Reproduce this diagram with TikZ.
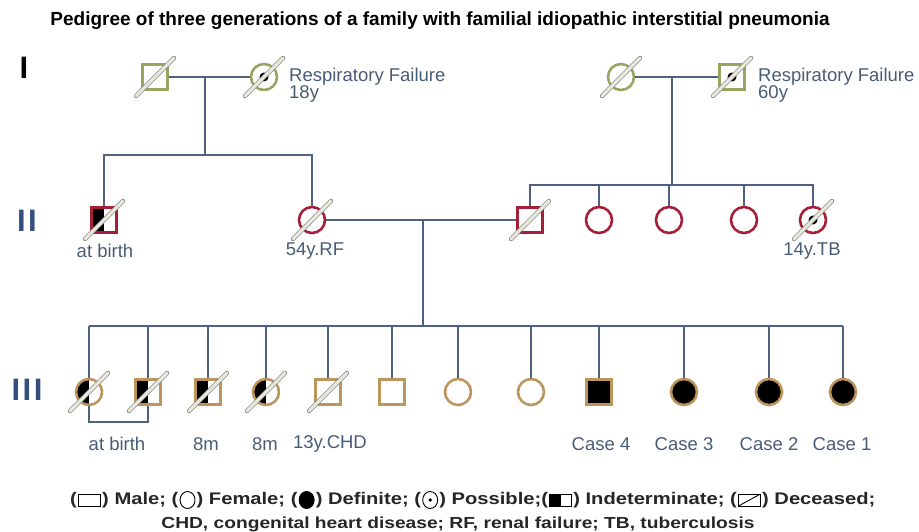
\documentclass[tikz,border=0pt]{standalone}
\usepackage{fontspec}
\setmainfont{Liberation Sans}
\newfontfamily\legendfont[FakeStretch=1.2]{Liberation Sans}
\usetikzlibrary{positioning, shapes.geometric}

\definecolor{pedline}{RGB}{78,98,128}
\definecolor{genone}{RGB}{150,165,95}
\definecolor{gentwo}{RGB}{165,30,55}
\definecolor{genthree}{RGB}{188,148,92}
\definecolor{labeltext}{RGB}{72,92,118}
\definecolor{genlabel}{RGB}{52,78,128}
\definecolor{slashedge}{RGB}{140,140,135}
\definecolor{slashfill}{RGB}{232,232,222}

\begin{document}
\begin{tikzpicture}[x=1pt, y=-1pt, node distance=1pt,
  male/.style={rectangle, draw, line width=2.6pt, fill=white, minimum size=25pt, inner sep=0pt},
  female/.style={circle, draw, line width=2.6pt, fill=white, minimum size=26pt, inner sep=0pt},
  halfleft/.style={path picture={\fill[black] (path picture bounding box.south west) rectangle (path picture bounding box.north);}},
  possible/.style={path picture={\fill[black] (path picture bounding box.center) circle[radius=4.5pt];}},
  definite/.style={fill=black},
  deadslash/.style={draw=slashedge, double=slashfill, double distance=3pt, line width=0.7pt, line cap=round},
  kin/.style={draw=pedline, line width=1.6pt},
  agelabel/.style={text=labeltext, font=\fontsize{18.5}{15}\selectfont, inner sep=0pt},
  genmark/.style={text=genlabel, font=\bfseries\fontsize{31}{31}\selectfont, inner sep=0pt},
  legtext/.style={font=\legendfont\bfseries\fontsize{16.8}{18}\selectfont, inner sep=0pt, text=black!85},
  legmale/.style={rectangle, draw, line width=0.9pt, minimum width=22pt, minimum height=12pt, inner sep=0pt},
  legfemale/.style={ellipse, draw, line width=0.9pt, minimum width=15pt, minimum height=17pt, inner sep=0pt},
]
\useasboundingbox (0,0) rectangle (919,532);

% title
\node[font=\bfseries\fontsize{19}{20}\selectfont, inner sep=0pt] (title) at (440,21) {Pedigree of three generations of a family with familial idiopathic interstitial pneumonia};

% generation marks
\node[genmark, text=black] (genI) at (24,68) {I};
\node[genmark] (genII) at (27,221) {I\kern2.5pt I};
\node[genmark] (genIII) at (27,390) {I\kern2.5pt I\kern2.5pt I};

% generation I
\node[male, draw=genone] (ind1a) at (155,77) {};
\node[female, draw=genone, possible] (ind1b) at (264,77) {};
\node[female, draw=genone] (ind1c) at (621,77) {};
\node[male, draw=genone, possible] (ind1d) at (732,77) {};
\coordinate (mate1) at (205,77);
\coordinate (sib1) at (205,155);
\coordinate (mate2) at (672,77);
\coordinate (sib2) at (672,185);
\node[agelabel, anchor=west] (cause1b) at (289,77) {Respiratory Failure};
\node[agelabel, anchor=north west] (age1b) at (cause1b.south west) {18y};
\node[agelabel, anchor=west] (cause1d) at (758,77) {Respiratory Failure};
\node[agelabel, anchor=north west] (age1d) at (cause1d.south west) {60y};

% generation II
\node[male, draw=gentwo, halfleft] (ind2a) at (104,220) {};
\node[female, draw=gentwo] (ind2b) at (312,220) {};
\node[male, draw=gentwo] (ind2c) at (530,220) {};
\node[female, draw=gentwo] (ind2d) at (599,220) {};
\node[female, draw=gentwo] (ind2e) at (669,220) {};
\node[female, draw=gentwo] (ind2f) at (744,220) {};
\node[female, draw=gentwo, possible] (ind2g) at (813,220) {};
\coordinate (mate3) at (423,220);
\coordinate (sib3) at (423,326);
\node[agelabel] (age2a) at (105,251) {at birth};
\node[agelabel] (age2b) at (315,251) {54y.RF};
\node[agelabel] (age2g) at (812,251) {14y.TB};

% generation III
\node[female, draw=genthree, halfleft] (ind3a) at (89,392) {};
\node[male, draw=genthree, halfleft] (ind3b) at (148,392) {};
\node[male, draw=genthree, halfleft] (ind3c) at (208,392) {};
\node[female, draw=genthree, halfleft] (ind3d) at (266,392) {};
\node[male, draw=genthree] (ind3e) at (328,392) {};
\node[male, draw=genthree] (ind3f) at (392,392) {};
\node[female, draw=genthree] (ind3g) at (458,392) {};
\node[female, draw=genthree] (ind3h) at (531,392) {};
\node[male, draw=genthree, definite] (ind3i) at (599,392) {};
\node[female, draw=genthree, definite] (ind3j) at (684,392) {};
\node[female, draw=genthree, definite] (ind3k) at (769,392) {};
\node[female, draw=genthree, definite] (ind3l) at (843,392) {};
\coordinate (twin) at (118,422);
\node[agelabel] (age3ab) at (117,444) {at birth};
\node[agelabel] (age3c) at (206,444) {8m};
\node[agelabel] (age3d) at (265,444) {8m};
\node[agelabel] (age3e) at (330,444) {13y.CHD};
\node[agelabel] (age3i) at (601,444) {Case 4};
\node[agelabel] (age3j) at (684,444) {Case 3};
\node[agelabel] (age3k) at (769,444) {Case 2};
\node[agelabel] (age3l) at (842,444) {Case 1};

% lines of descent
\draw[kin] (ind1a) -- (ind1b);
\draw[kin] (mate1) -- (sib1);
\draw[kin] (ind2a) -- (ind2a |- sib1) -- (ind2b |- sib1) -- (ind2b);
\draw[kin] (ind1c) -- (ind1d);
\draw[kin] (mate2) -- (sib2);
\draw[kin] (ind2c) -- (ind2c |- sib2) -- (ind2g |- sib2) -- (ind2g);
\draw[kin] (ind2d |- sib2) -- (ind2d);
\draw[kin] (ind2e |- sib2) -- (ind2e);
\draw[kin] (ind2f |- sib2) -- (ind2f);
\draw[kin] (ind2b) -- (ind2c);
\draw[kin] (mate3) -- (sib3);
\draw[kin] (ind3a |- sib3) -- (ind3l |- sib3);
\draw[kin] (ind3a |- sib3) -- (ind3a);
\draw[kin] (ind3b |- sib3) -- (ind3b);
\draw[kin] (ind3c |- sib3) -- (ind3c);
\draw[kin] (ind3d |- sib3) -- (ind3d);
\draw[kin] (ind3e |- sib3) -- (ind3e);
\draw[kin] (ind3f |- sib3) -- (ind3f);
\draw[kin] (ind3g |- sib3) -- (ind3g);
\draw[kin] (ind3h |- sib3) -- (ind3h);
\draw[kin] (ind3i |- sib3) -- (ind3i);
\draw[kin] (ind3j |- sib3) -- (ind3j);
\draw[kin] (ind3k |- sib3) -- (ind3k);
\draw[kin] (ind3l |- sib3) -- (ind3l);
\draw[kin] (ind3a) -- (ind3a |- twin) -- (ind3b |- twin) -- (ind3b);

% deceased
\draw[deadslash] ([shift={(-19,19)}]ind1a.center) -- ([shift={(19,-19)}]ind1a.center);
\draw[deadslash] ([shift={(-19,19)}]ind1b.center) -- ([shift={(19,-19)}]ind1b.center);
\draw[deadslash] ([shift={(-19,19)}]ind1c.center) -- ([shift={(19,-19)}]ind1c.center);
\draw[deadslash] ([shift={(-19,19)}]ind1d.center) -- ([shift={(19,-19)}]ind1d.center);
\draw[deadslash] ([shift={(-19,19)}]ind2a.center) -- ([shift={(19,-19)}]ind2a.center);
\draw[deadslash] ([shift={(-19,19)}]ind2b.center) -- ([shift={(19,-19)}]ind2b.center);
\draw[deadslash] ([shift={(-19,19)}]ind2c.center) -- ([shift={(19,-19)}]ind2c.center);
\draw[deadslash] ([shift={(-19,19)}]ind2g.center) -- ([shift={(19,-19)}]ind2g.center);
\draw[deadslash] ([shift={(-19,19)}]ind3a.center) -- ([shift={(19,-19)}]ind3a.center);
\draw[deadslash] ([shift={(-19,19)}]ind3b.center) -- ([shift={(19,-19)}]ind3b.center);
\draw[deadslash] ([shift={(-19,19)}]ind3c.center) -- ([shift={(19,-19)}]ind3c.center);
\draw[deadslash] ([shift={(-19,19)}]ind3d.center) -- ([shift={(19,-19)}]ind3d.center);
\draw[deadslash] ([shift={(-19,19)}]ind3e.center) -- ([shift={(19,-19)}]ind3e.center);

% legend
\node[legtext, anchor=west] (leg1) at (70,500) {(};
\node[legmale, right=1pt of leg1] (legsq) {};
\node[legtext, right=1pt of legsq] (leg2) {) Male; (};
\node[legfemale, right=1pt of leg2] (legci) {};
\node[legtext, right=1pt of legci] (leg3) {) Female; (};
\node[legfemale, fill=black, right=1pt of leg3] (legdf) {};
\node[legtext, right=1pt of legdf] (leg4) {) Definite; (};
\node[legfemale, right=1pt of leg4, path picture={\fill (path picture bounding box.center) circle[radius=1.8pt];}] (legpo) {};
\node[legtext, right=1pt of legpo] (leg5) {) Possible;(};
\node[legmale, right=1pt of leg5, path picture={\fill (path picture bounding box.south west) rectangle (path picture bounding box.north);}] (legin) {};
\node[legtext, right=1pt of legin] (leg6) {) Indeterminate; (};
\node[legmale, right=1pt of leg6, path picture={\draw[line width=0.9pt] (path picture bounding box.south west) -- (path picture bounding box.north east);}] (legde) {};
\node[legtext, right=1pt of legde] (leg7) {) Deceased;};
\node[legtext, font=\legendfont\bfseries\fontsize{16}{18}\selectfont] (leg8) at (458,524) {CHD, congenital heart disease; RF, renal failure; TB, tuberculosis};
\end{tikzpicture}
\end{document}
